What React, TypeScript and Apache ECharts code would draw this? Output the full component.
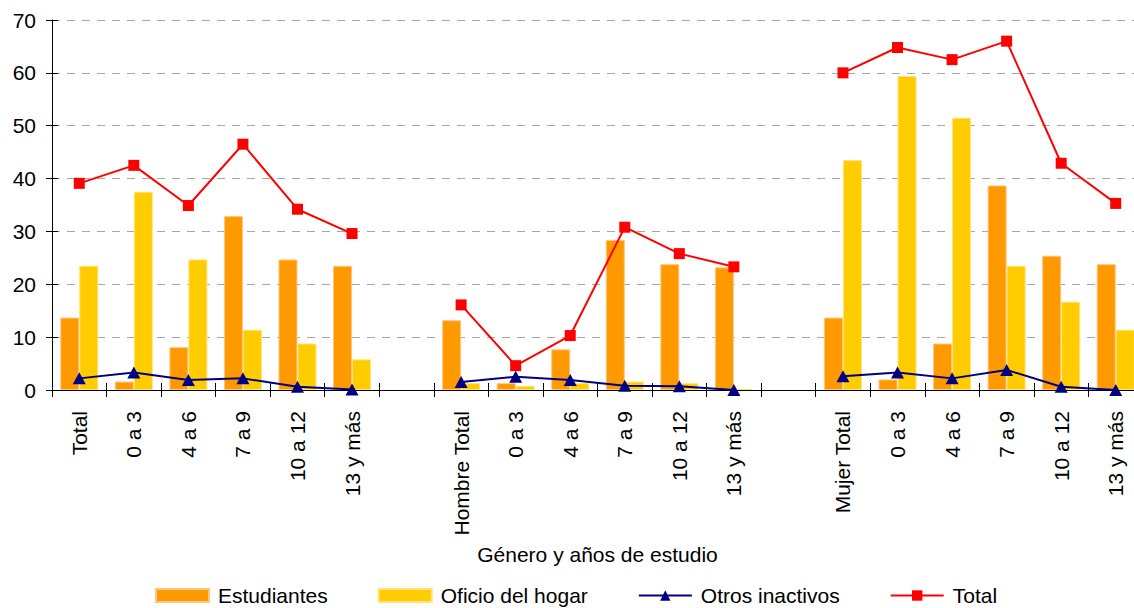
import React, { useEffect, useRef } from "react";
import * as echarts from "echarts";

const categories = [
  "Total", "0 a 3", "4 a 6", "7 a 9", "10 a 12", "13 y más", "",
  "Hombre Total", "0 a 3", "4 a 6", "7 a 9", "10 a 12", "13 y más", "",
  "Mujer Total", "0 a 3", "4 a 6", "7 a 9", "10 a 12", "13 y más",
];

const estudiantes = [13.7, 1.6, 8.1, 32.9, 24.7, 23.5, null, 13.2, 1.3, 7.7, 28.4, 23.8, 23.2, null, 13.7, 2.0, 8.8, 38.7, 25.4, 23.8];
const oficioHogar = [23.5, 37.5, 24.7, 11.4, 8.8, 5.8, null, 1.3, 0.8, 1.3, 1.6, 1.3, 0.2, null, 43.5, 59.4, 51.5, 23.5, 16.7, 11.4];
const otrosInactivos = [2.2, 3.3, 1.9, 2.2, 0.6, 0.1, null, 1.5, 2.5, 1.9, 0.8, 0.7, 0.0, null, 2.6, 3.3, 2.2, 3.8, 0.6, 0.0];
const total = [39.1, 42.5, 34.9, 46.5, 34.2, 29.6, null, 16.1, 4.6, 10.3, 30.8, 25.8, 23.3, null, 60.0, 64.8, 62.5, 66.0, 42.9, 35.3];

const yMin = 0;
const yMax = 70;
const yInterval = 10;
const xAxisTitle = "Género y años de estudio";

const FONT = "'Liberation Sans', Arial, sans-serif";

export default function App() {
  const ref = useRef<HTMLDivElement>(null);

  useEffect(() => {
    if (!ref.current) return;
    const chart = echarts.init(ref.current, undefined, { renderer: "svg" });
    chart.setOption({
      animation: false,
      backgroundColor: "#ffffff",
      textStyle: { fontFamily: FONT, color: "#000" },
      grid: {
        left: 52,
        right: -9,
        top: 20,
        bottom: 218,
        containLabel: false,
        outerBoundsMode: "none",
      },
      legend: {
        left: 155,
        top: 585,
        padding: 0,
        itemWidth: 53,
        itemHeight: 13,
        itemGap: 50,
        textStyle: { fontSize: 21, color: "#000", fontFamily: FONT, padding: [0, 0, 0, 4] },
        data: [
          { name: "Estudiantes", icon: "rect" },
          { name: "Oficio del hogar", icon: "rect" },
          { name: "Otros inactivos" },
          { name: "Total" },
        ],
      },
      xAxis: [
        {
          type: "category",
          data: categories,
          position: "bottom",
          boundaryGap: true,
          name: xAxisTitle,
          nameLocation: "middle",
          nameGap: 154,
          nameTextStyle: { fontSize: 21, color: "#000", fontFamily: FONT },
          axisLine: { show: true, lineStyle: { color: "#000", width: 1 } },
          axisTick: { show: true, inside: false, length: 7, alignWithLabel: false, interval: 0, lineStyle: { color: "#000" } },
          axisLabel: { interval: 0, rotate: 90, fontSize: 21, color: "#000", margin: 21, fontFamily: FONT },
          splitLine: { show: false },
        },
        {
          type: "category",
          data: categories,
          position: "bottom",
          boundaryGap: true,
          axisLine: { show: false },
          axisTick: { show: true, inside: true, length: 7, interval: 0, lineStyle: { color: "#000" } },
          axisLabel: { show: false },
          splitLine: { show: false },
        },
      ],
      yAxis: [
        {
          type: "value",
          min: yMin,
          max: yMax,
          interval: yInterval,
          position: "left",
          axisLine: { show: true, lineStyle: { color: "#000", width: 1 } },
          axisTick: { show: true, inside: false, length: 6, lineStyle: { color: "#000" } },
          axisLabel: { fontSize: 21, color: "#000", margin: 16, fontFamily: FONT },
          splitLine: { show: true, lineStyle: { color: "#A8A8A8", width: 1, type: [8, 7] } },
        },
        {
          type: "value",
          min: yMin,
          max: yMax,
          interval: yInterval,
          position: "left",
          axisLine: { show: false },
          axisTick: { show: true, inside: true, length: 6, lineStyle: { color: "#000" } },
          axisLabel: { show: false },
          splitLine: { show: false },
        },
      ],
      series: [
        {
          name: "Estudiantes",
          type: "bar",
          data: estudiantes,
          barWidth: 19,
          barGap: "0%",
          itemStyle: { color: "#FF9900", borderColor: "#FFC680", borderWidth: 1 },
        },
        {
          name: "Oficio del hogar",
          type: "bar",
          data: oficioHogar,
          barWidth: 19,
          barGap: "0%",
          itemStyle: { color: "#FFCC00", borderColor: "#FFE37A", borderWidth: 1 },
        },
        {
          name: "Otros inactivos",
          type: "line",
          data: otrosInactivos,
          connectNulls: false,
          symbol: "triangle",
          symbolSize: [13, 12],
          lineStyle: { color: "#000080", width: 2 },
          itemStyle: { color: "#000080" },
          z: 3,
        },
        {
          name: "Total",
          type: "line",
          data: total,
          connectNulls: false,
          symbol: "rect",
          symbolSize: 11,
          lineStyle: { color: "#FF0000", width: 2 },
          itemStyle: { color: "#FF0000" },
          z: 4,
        },
      ],
    });
    return () => chart.dispose();
  }, []);

  return (
    <div
      ref={ref}
      style={{ position: "fixed", left: 0, top: 0, width: 1134, height: 608 }}
    />
  );
}
